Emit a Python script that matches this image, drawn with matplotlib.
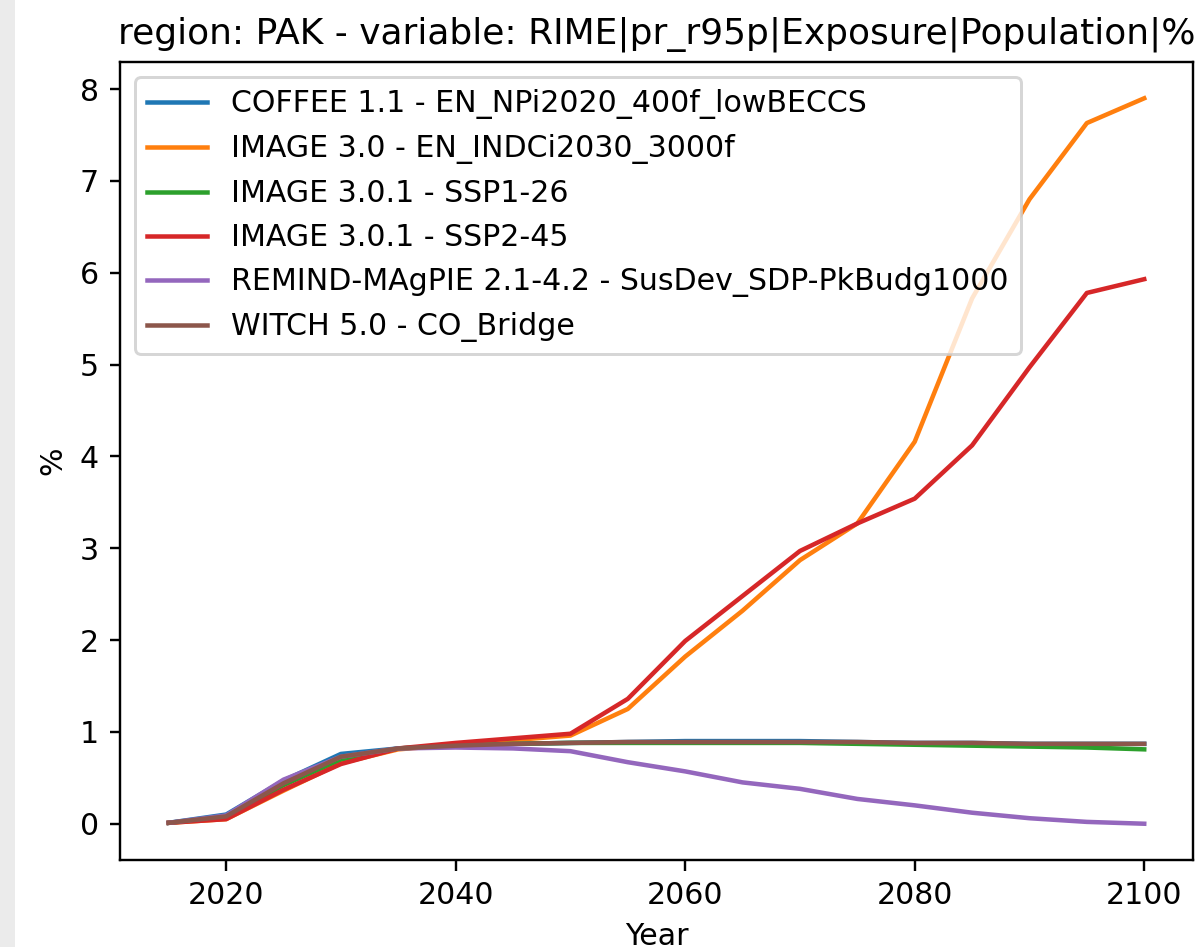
import numpy as np
import matplotlib
matplotlib.use("Agg")
import matplotlib.pyplot as plt
from matplotlib.patches import Rectangle

# years and series
years = [2015, 2020, 2025, 2030, 2035, 2040, 2045, 2050, 2055,
         2060, 2065, 2070, 2075, 2080, 2085, 2090, 2095, 2100]

coffee = [0.01, 0.10, 0.47, 0.76, 0.82, 0.85, 0.87, 0.88, 0.89,
          0.90, 0.90, 0.90, 0.89, 0.88, 0.88, 0.87, 0.87, 0.87]
image_indc = [0.01, 0.05, 0.36, 0.66, 0.81, 0.86, 0.91, 0.96, 1.25,
              1.82, 2.32, 2.87, 3.27, 4.16, 5.72, 6.80, 7.63, 7.90]
image_ssp1 = [0.01, 0.07, 0.42, 0.70, 0.82, 0.85, 0.87, 0.88, 0.88,
              0.88, 0.88, 0.88, 0.87, 0.86, 0.85, 0.84, 0.83, 0.81]
image_ssp2 = [0.01, 0.05, 0.37, 0.65, 0.82, 0.88, 0.93, 0.98, 1.36,
              1.99, 2.48, 2.97, 3.27, 3.54, 4.12, 4.97, 5.78, 5.93]
remind = [0.01, 0.09, 0.48, 0.73, 0.82, 0.83, 0.82, 0.79, 0.67,
          0.57, 0.45, 0.38, 0.27, 0.20, 0.12, 0.06, 0.02, 0.00]
witch = [0.01, 0.08, 0.44, 0.73, 0.82, 0.85, 0.87, 0.88, 0.89,
         0.89, 0.89, 0.89, 0.89, 0.88, 0.88, 0.87, 0.87, 0.87]

labels = ["COFFEE 1.1 - EN_NPi2020_400f_lowBECCS",
          "IMAGE 3.0 - EN_INDCi2030_3000f",
          "IMAGE 3.0.1 - SSP1-26",
          "IMAGE 3.0.1 - SSP2-45",
          "REMIND-MAgPIE 2.1-4.2 - SusDev_SDP-PkBudg1000",
          "WITCH 5.0 - CO_Bridge"]
series = [coffee, image_indc, image_ssp1, image_ssp2, remind, witch]

dpi = 216
W, H = 1198, 947
fig = plt.figure(figsize=(W / dpi, H / dpi), dpi=dpi)

# light grey strip on the left edge of the screenshot
fig.patches.append(Rectangle((0, 0), 15 / W, 1, transform=fig.transFigure,
                             facecolor="#ebebeb", edgecolor="none", zorder=-1))

ax = fig.add_axes([120 / W, (H - 860) / H, 1073 / W, 798 / H])

for vals, lab in zip(series, labels):
    ax.plot(years, vals, label=lab)

ax.set_title("region: PAK - variable: RIME|pr_r95p|Exposure|Population|%")
ax.set_xlabel("Year")
ax.set_ylabel("%")
ax.legend(loc="upper left")

fig.savefig("out.png", dpi=dpi)
